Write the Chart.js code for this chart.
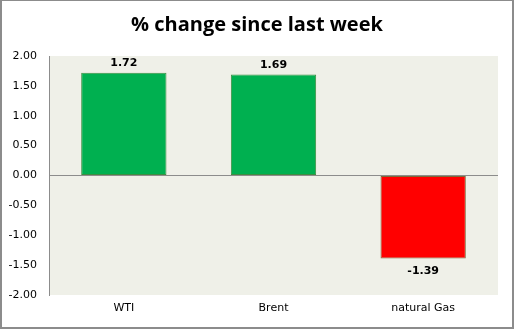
<!DOCTYPE html>
<html><head><meta charset="utf-8">
<script src="https://cdn.jsdelivr.net/npm/chart.js@4.4.0/dist/chart.umd.min.js"></script>
<style>html,body{margin:0;padding:0;background:#fff}#w{width:514px;height:329px;position:relative}</style>
</head><body><div id="w"><canvas id="c" width="514" height="329"></canvas></div>
<script>
const categories = ['WTI', 'Brent', 'natural Gas'];
const values = [1.72, 1.69, -1.39];
const yTicks = [-2, -1.5, -1, -0.5, 0, 0.5, 1, 1.5, 2];
const titleText = '% change since last week';

const bgPlugin = {
  id: 'bg',
  beforeDraw(chart) {
    const {ctx, chartArea: a} = chart;
    ctx.save();
    ctx.fillStyle = '#fff';
    ctx.fillRect(0, 0, chart.width, chart.height);
    ctx.fillStyle = '#EFF0E8';
    ctx.fillRect(a.left, a.top, a.right - a.left, a.bottom - a.top);
    ctx.restore();
  },
  afterDraw(chart) {
    const ctx = chart.ctx;
    ctx.save();
    ctx.fillStyle = '#000';
    ctx.font = 'bold 20px "Open Sans", "Liberation Sans", sans-serif';
    ctx.textAlign = 'center';
    ctx.textBaseline = 'middle';
    ctx.fillText(titleText, chart.width / 2, 25);
    ctx.fillStyle = '#8c8c8c';
    ctx.fillRect(0, 0, chart.width, 1);
    ctx.fillRect(0, 0, 2, chart.height);
    ctx.fillRect(chart.width - 2, 0, 2, chart.height);
    ctx.fillRect(0, chart.height - 2, chart.width, 2);
    ctx.restore();
  }
};
const labelPlugin = {
  id: 'lbl',
  afterDatasetsDraw(chart) {
    const ctx = chart.ctx;
    const meta = chart.getDatasetMeta(0);
    ctx.save();
    ctx.font = 'bold 11px "DejaVu Sans", Verdana, sans-serif';
    ctx.fillStyle = '#000';
    ctx.textAlign = 'center';
    meta.data.forEach((bar, i) => {
      const v = values[i];
      if (v >= 0) { ctx.textBaseline = 'bottom'; ctx.fillText(v.toFixed(2), bar.x, bar.y - 4); }
      else { ctx.textBaseline = 'top'; ctx.fillText(v.toFixed(2), bar.x, bar.y + 7); }
    });
    ctx.restore();
  }
};

new Chart(document.getElementById('c'), {
  type: 'bar',
  data: {
    labels: categories,
    datasets: [{
      data: values,
      backgroundColor: values.map(v => v >= 0 ? '#00B050' : '#FF0000'),
      borderColor: values.map(v => v >= 0 ? '#3E8E41' : '#7F6A3A'),
      borderWidth: 1,
      borderSkipped: false,
      categoryPercentage: 1,
      barPercentage: 0.57
    }]
  },
  options: {
    responsive: false,
    animation: false,
    layout: {padding: {left: 0, right: 16, top: 56, bottom: 0}},
    plugins: {
      legend: {display: false},
      tooltip: {enabled: false},
      title: {display: false}
    },
    scales: {
      y: {
        min: -2, max: 2,
        afterBuildTicks(s) { s.ticks = yTicks.map(v => ({value: v})); },
        afterFit(s) { s.width = 49; },
        ticks: {
          color: '#000', padding: 12,
          font: {family: '"DejaVu Sans", Verdana, sans-serif', size: 11},
          callback: v => Number(v).toFixed(2)
        },
        grid: {
          drawTicks: false,
          color: ctx => (ctx.tick && ctx.tick.value === 0) ? '#8c8c8c' : 'rgba(0,0,0,0)',
          lineWidth: 1
        },
        border: {display: true, color: '#8c8c8c', width: 1}
      },
      x: {
        afterFit(s) { s.height = 34; },
        ticks: {
          color: '#000', padding: 7,
          font: {family: '"DejaVu Sans", Verdana, sans-serif', size: 11}
        },
        grid: {display: false, drawTicks: false},
        border: {display: false}
      }
    }
  },
  plugins: [bgPlugin, labelPlugin]
});
</script></body></html>
